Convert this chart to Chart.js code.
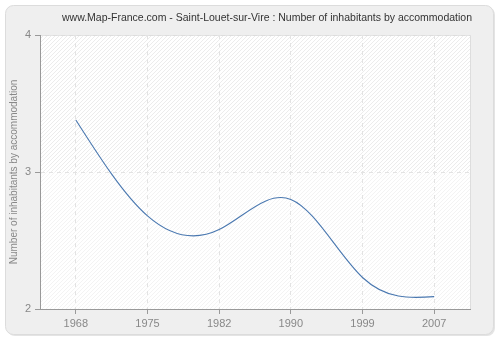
<!DOCTYPE html>
<html>
<head>
<meta charset="utf-8">
<script src="https://cdn.jsdelivr.net/npm/chart.js@4/dist/chart.umd.min.js"></script>
<style>
  html, body { margin: 0; padding: 0; background: #ffffff; }
  #wrap { width: 500px; height: 340px; }
</style>
</head>
<body>
<div id="wrap"><canvas id="chart" width="500" height="340"></canvas></div>
<script>
// Census years and average number of inhabitants per dwelling
const years = ['1968', '1975', '1982', '1990', '1999', '2007'];
const inhabitantsPerDwelling = [3.38, 2.68, 2.58, 2.80, 2.23, 2.09];
const yTicks = [2, 3, 4];
const chartTitle = 'www.Map-France.com - Saint-Louet-sur-Vire : Number of inhabitants by accommodation';
const yAxisTitle = 'Number of inhabitants by accommodation';

const FONT = "'Liberation Sans', Arial, sans-serif";

// Rounded grey panel behind everything, plus the hatched plotting area
const panelPlugin = {
  id: 'panel',
  beforeDraw(chart) {
    const { ctx, chartArea: a } = chart;
    ctx.save();
    ctx.fillStyle = '#ffffff';
    ctx.fillRect(0, 0, chart.width, chart.height);

    const x = 5.5, y = 5.5, w = 488, h = 329, r = 8;
    const rr = (ox, oy) => {
      ctx.beginPath();
      ctx.moveTo(x + ox + r, y + oy);
      ctx.arcTo(x + ox + w, y + oy, x + ox + w, y + oy + h, r);
      ctx.arcTo(x + ox + w, y + oy + h, x + ox, y + oy + h, r);
      ctx.arcTo(x + ox, y + oy + h, x + ox, y + oy, r);
      ctx.arcTo(x + ox, y + oy, x + ox + w, y + oy, r);
      ctx.closePath();
    };
    rr(1.5, 1.5);
    ctx.fillStyle = '#e4e4e4';
    ctx.fill();
    rr(0, 0);
    ctx.fillStyle = '#efefef';
    ctx.fill();
    ctx.strokeStyle = '#dcdcdc';
    ctx.lineWidth = 1;
    ctx.stroke();

    // plotting area: white with faint diagonal hatching
    ctx.beginPath();
    ctx.rect(a.left, a.top, a.right - a.left, a.bottom - a.top);
    ctx.clip();
    ctx.fillStyle = '#ffffff';
    ctx.fillRect(a.left, a.top, a.right - a.left, a.bottom - a.top);
    const yMid = chart.scales.y.getPixelForValue(3);
    ctx.lineWidth = 1;
    const hatch = (top, bottom, color) => {
      ctx.save();
      ctx.beginPath();
      ctx.rect(a.left, top, a.right - a.left, bottom - top);
      ctx.clip();
      ctx.strokeStyle = color;
      ctx.beginPath();
      for (let s = a.left - (a.bottom - a.top); s < a.right + 10; s += 4) {
        ctx.moveTo(s, a.bottom);
        ctx.lineTo(s + (a.bottom - a.top), a.top);
      }
      ctx.stroke();
      ctx.restore();
    };
    hatch(a.top, yMid, '#ececec');
    hatch(yMid, a.bottom, '#f3f3f3');
    ctx.restore();

    // light frame on the top and right side of the plot
    ctx.save();
    ctx.strokeStyle = '#dddddd';
    ctx.lineWidth = 1;
    ctx.beginPath();
    ctx.moveTo(a.left, a.top + 0.5);
    ctx.lineTo(a.right + 0.5, a.top + 0.5);
    ctx.lineTo(a.right + 0.5, a.bottom);
    ctx.stroke();
    ctx.restore();
  },
  afterDraw(chart) {
    const { ctx } = chart;
    ctx.save();
    ctx.font = '10.5px ' + FONT;
    ctx.fillStyle = '#333333';
    ctx.textAlign = 'center';
    ctx.textBaseline = 'middle';
    ctx.fillText(chartTitle, 267, 18);
    ctx.restore();
  }
};

// Natural cubic spline through the plotted points, written into the
// Bezier control points that the line element strokes.
const naturalSplinePlugin = {
  id: 'naturalSpline',
  beforeDatasetsDraw(chart) {
    chart.data.datasets.forEach((ds, di) => {
      const meta = chart.getDatasetMeta(di);
      const line = meta.dataset;
      const pts = meta.data;
      const n = pts.length;
      if (!line || n < 3) return;
      line.updateControlPoints(chart.chartArea, 'x');
      const xs = pts.map(p => p.x), ys = pts.map(p => p.y);
      const h = [];
      for (let i = 0; i < n - 1; i++) h.push(xs[i + 1] - xs[i]);
      // tridiagonal system for second derivatives (natural ends: M0 = Mn-1 = 0)
      const M = new Array(n).fill(0);
      const a = [], b = [], c = [], d = [];
      for (let i = 1; i < n - 1; i++) {
        a.push(h[i - 1]);
        b.push(2 * (h[i - 1] + h[i]));
        c.push(h[i]);
        d.push(6 * ((ys[i + 1] - ys[i]) / h[i] - (ys[i] - ys[i - 1]) / h[i - 1]));
      }
      const m = b.length;
      for (let i = 1; i < m; i++) {
        const w = a[i] / b[i - 1];
        b[i] -= w * c[i - 1];
        d[i] -= w * d[i - 1];
      }
      const sol = new Array(m);
      sol[m - 1] = d[m - 1] / b[m - 1];
      for (let i = m - 2; i >= 0; i--) sol[i] = (d[i] - c[i] * sol[i + 1]) / b[i];
      for (let i = 1; i < n - 1; i++) M[i] = sol[i - 1];
      for (let i = 0; i < n - 1; i++) {
        const slope = (ys[i + 1] - ys[i]) / h[i];
        const d0 = slope - h[i] * (2 * M[i] + M[i + 1]) / 6;
        const d1 = slope + h[i] * (M[i] + 2 * M[i + 1]) / 6;
        pts[i].cp2x = xs[i] + h[i] / 3;
        pts[i].cp2y = ys[i] + d0 * h[i] / 3;
        pts[i + 1].cp1x = xs[i + 1] - h[i] / 3;
        pts[i + 1].cp1y = ys[i + 1] - d1 * h[i] / 3;
      }
      line._pointsUpdated = true;
    });
  }
};

new Chart(document.getElementById('chart'), {
  type: 'line',
  data: {
    labels: years,
    datasets: [{
      data: inhabitantsPerDwelling,
      borderColor: '#4a78b0',
      borderWidth: 1.1,
      pointRadius: 0,
      pointHoverRadius: 0,
      tension: 0.4,
      fill: false
    }]
  },
  options: {
    responsive: false,
    animation: false,
    events: [],
    layout: { padding: { top: 35, right: 30, bottom: 5, left: 6 } },
    plugins: {
      legend: { display: false },
      title: { display: false },
      tooltip: { enabled: false }
    },
    scales: {
      x: {
        type: 'category',
        offset: true,
        grid: {
          color: '#e3e3e3',
          tickColor: '#999999',
          tickLength: 5,
          offset: false
        },
        border: { color: '#999999', width: 1, dash: [4, 4] },
        ticks: {
          color: '#888888',
          font: { family: FONT, size: 11 },
          padding: 3,
          maxRotation: 0,
          autoSkip: false
        },
        afterFit(scale) { scale.height = 26; }
      },
      y: {
        min: 2,
        max: 4,
        afterBuildTicks(scale) { scale.ticks = yTicks.map(v => ({ value: v })); },
        grid: {
          color: '#e3e3e3',
          tickColor: '#999999',
          tickLength: 5
        },
        border: { color: '#999999', width: 1, dash: [4, 4] },
        ticks: {
          color: '#888888',
          font: { family: FONT, size: 11 },
          padding: 4
        },
        title: {
          display: true,
          text: yAxisTitle,
          color: '#888888',
          font: { family: FONT, size: 10 },
          padding: { top: 2, bottom: 0 }
        },
        afterFit(scale) { scale.width = 34; }
      }
    }
  },
  plugins: [panelPlugin, naturalSplinePlugin]
});
</script>
</body>
</html>
